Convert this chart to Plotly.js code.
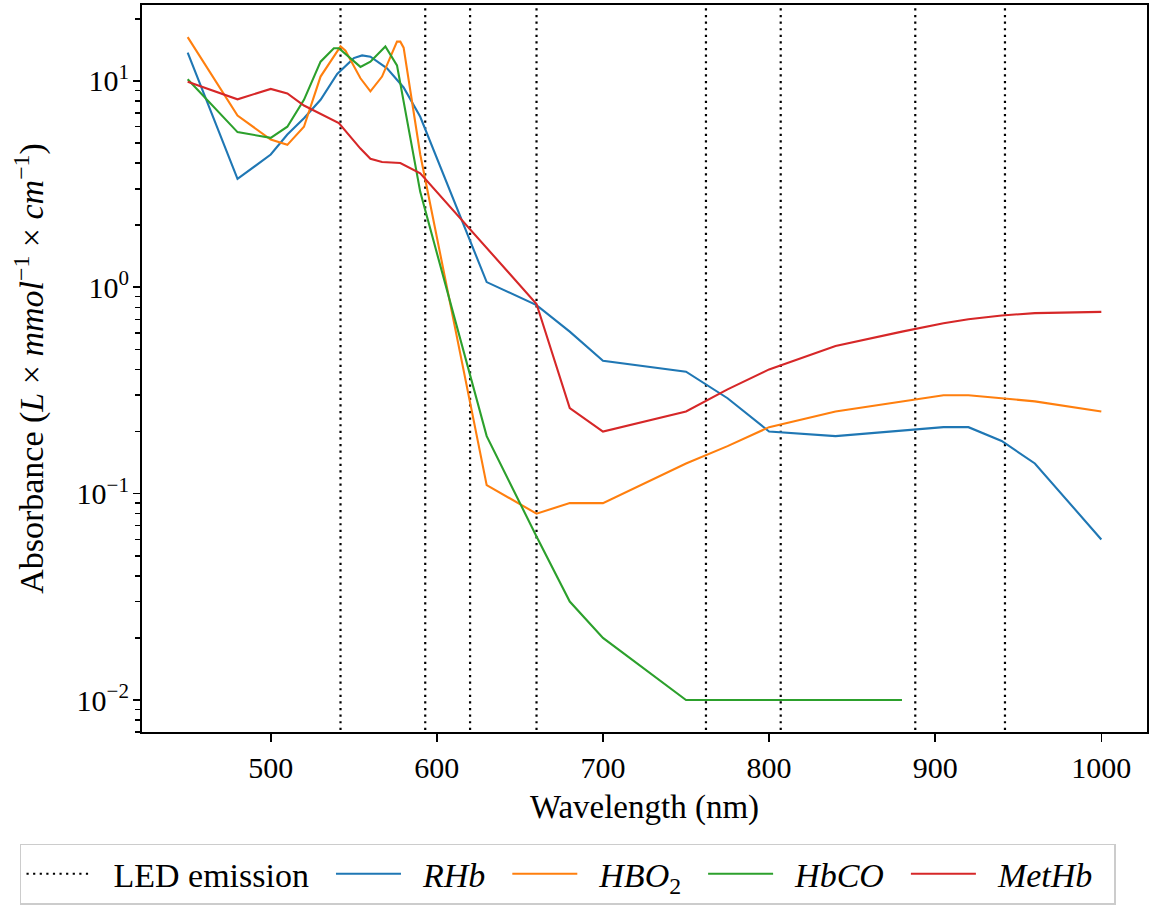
<!DOCTYPE html>
<html>
<head>
<meta charset="utf-8">
<script src="https://cdn.plot.ly/plotly-3.0.1.min.js"></script>
<style>
  html, body { margin: 0; padding: 0; background: #fff; }
  #chart { width: 1155px; height: 909px; }
</style>
</head>
<body>
<div id="chart"></div>
<script>
// ---- data ----
const ledWavelengths = [542, 593, 620, 660, 762, 807, 888, 942];

const rhbX = [450, 480, 500, 510, 520, 530, 540, 550, 555, 560, 570, 580, 590, 630, 660, 680, 700, 750, 775, 800, 840, 905, 920, 940, 960, 1000];
const rhbY = [13.7, 3.35, 4.4, 5.5, 6.6, 8.1, 10.8, 12.9, 13.3, 13.1, 11.5, 9.3, 6.7, 1.06, 0.82, 0.61, 0.44, 0.39, 0.29, 0.20, 0.19, 0.21, 0.21, 0.18, 0.14, 0.060];

const hbo2X = [450, 480, 500, 510, 520, 530, 542, 545, 554, 560, 567, 576, 578, 580, 590, 630, 660, 680, 700, 750, 775, 800, 840, 905, 920, 940, 960, 1000];
const hbo2Y = [16.3, 6.8, 5.2, 4.9, 6.0, 10.5, 14.7, 14.0, 10.3, 8.9, 10.5, 15.5, 15.5, 14.5, 4.4, 0.11, 0.080, 0.090, 0.090, 0.14, 0.17, 0.21, 0.25, 0.30, 0.30, 0.29, 0.28, 0.25];

const hbcoX = [450, 480, 500, 510, 520, 530, 538, 541, 554, 560, 569, 576, 590, 630, 660, 680, 700, 750, 880];
const hbcoY = [10.2, 5.65, 5.3, 6.0, 8.1, 12.4, 14.4, 14.4, 11.7, 12.4, 14.7, 11.9, 2.9, 0.19, 0.062, 0.030, 0.020, 0.010, 0.010];

const methbX = [450, 480, 500, 510, 520, 530, 541, 554, 560, 567, 578, 590, 660, 680, 700, 750, 775, 800, 840, 880, 905, 920, 940, 960, 1000];
const methbY = [9.9, 8.15, 9.15, 8.7, 7.6, 6.9, 6.25, 4.7, 4.2, 4.05, 4.0, 3.57, 0.83, 0.26, 0.20, 0.25, 0.32, 0.40, 0.52, 0.61, 0.67, 0.70, 0.73, 0.75, 0.76];

const ledName = 'LED emission';
const seriesNames = ['<i>RHb</i>', '<i>HBO</i><sub>2</sub>', '<i>HbCO</i>', '<i>MetHb</i>'];
const seriesColors = ['#1f77b4', '#ff7f0e', '#2ca02c', '#d62728'];

const xTicks = [500, 600, 700, 800, 900, 1000];
const yTickVals = [0.01, 0.1, 1, 10];
const yTickText = ['10<sup>\u22122</sup>', '10<sup>\u22121</sup>', '10<sup>0</sup>', '10<sup>1</sup>'];

// ---- build traces ----
const FONT = 'Liberation Serif, Times New Roman, serif';
const PAD = '\u2002';           // spacing around legend labels
const padName = s => PAD + s + PAD;

// LED lines: one trace with gaps, spanning beyond the visible range (clipped by the axes)
const ledX = [], ledY = [];
ledWavelengths.forEach(w => { ledX.push(w, w, null); ledY.push(1e-4, 1e3, null); });

const traces = [{
  x: ledX, y: ledY, type: 'scatter', mode: 'lines', name: padName(ledName),
  line: { color: '#000', width: 2.2, dash: '2.2px,4.4px' }, hoverinfo: 'skip'
}];

const allX = [rhbX, hbo2X, hbcoX, methbX];
const allY = [rhbY, hbo2Y, hbcoY, methbY];
for (let i = 0; i < 4; i++) {
  traces.push({
    x: allX[i], y: allY[i], type: 'scatter', mode: 'lines',
    name: padName(seriesNames[i]), line: { color: seriesColors[i], width: 2.1 }
  });
}

// full tick set for the log axis: labelled decades + unlabelled 2..9 minor ticks
const allTickVals = [], allTickText = [];
[0.001].concat(yTickVals).forEach(d => {
  const i = yTickVals.indexOf(d);
  if (i >= 0) { allTickVals.push(d); allTickText.push(yTickText[i]); }
  for (let k = 2; k <= 9; k++) { allTickVals.push(k * d); allTickText.push(''); }
});

const Y_RANGE = [-2.155, 1.368];

const axisCommon = {
  showline: true, linecolor: '#000', linewidth: 1.6, mirror: true,
  ticks: 'outside', ticklen: 8, tickwidth: 1.6, tickcolor: '#000',
  showgrid: false, zeroline: false,
  tickfont: { family: FONT, size: 30, color: '#000' }
};

const layout = {
  width: 1155, height: 909,
  margin: { l: 142, r: 8, t: 5, b: 176 },
  paper_bgcolor: '#fff', plot_bgcolor: '#fff',
  font: { family: FONT, size: 30, color: '#000' },
  showlegend: true,
  xaxis: Object.assign({}, axisCommon, {
    range: [422.5, 1027.5], tickmode: 'array', tickvals: xTicks,
    title: { text: 'Wavelength (nm)', font: { family: FONT, size: 33 }, standoff: 12 }
  }),
  yaxis: Object.assign({}, axisCommon, {
    type: 'log', range: Y_RANGE,
    tickmode: 'array', tickvals: allTickVals, ticktext: allTickText,
    ticklen: 5.5, tickwidth: 1.5,
    title: {
      text: 'Absorbance (<i>L</i> \u00d7 <i>mmol</i><sup>\u22121</sup> \u00d7 <i>cm</i><sup>\u22121</sup>)',
      font: { family: FONT, size: 34 }, standoff: 22
    }
  }),
  // overlay axis that draws the longer decade ticks
  yaxis2: {
    type: 'log', range: Y_RANGE, overlaying: 'y', side: 'left', anchor: 'x',
    tickmode: 'array', tickvals: yTickVals, showticklabels: false,
    ticks: 'outside', ticklen: 8, tickwidth: 1.6, tickcolor: '#000',
    showgrid: false, zeroline: false, showline: false
  },
  legend: {
    orientation: 'h', x: -0.1214, xanchor: 'left', y: -0.152, yanchor: 'top',
    bordercolor: '#cccccc', borderwidth: 1.5, bgcolor: '#fff',
    font: { family: FONT, size: 34, color: '#000' },
    itemwidth: 65, traceorder: 'normal'
  }
};

// an invisible trace bound to the overlay axis so that axis is active
traces.push({ x: [450, 1000], y: [1, 1], yaxis: 'y2', type: 'scatter', mode: 'lines', line: { width: 0 }, opacity: 0, showlegend: false, hoverinfo: 'skip' });

Plotly.newPlot('chart', traces, layout, { displayModeBar: false, staticPlot: true });
</script>
</body>
</html>
